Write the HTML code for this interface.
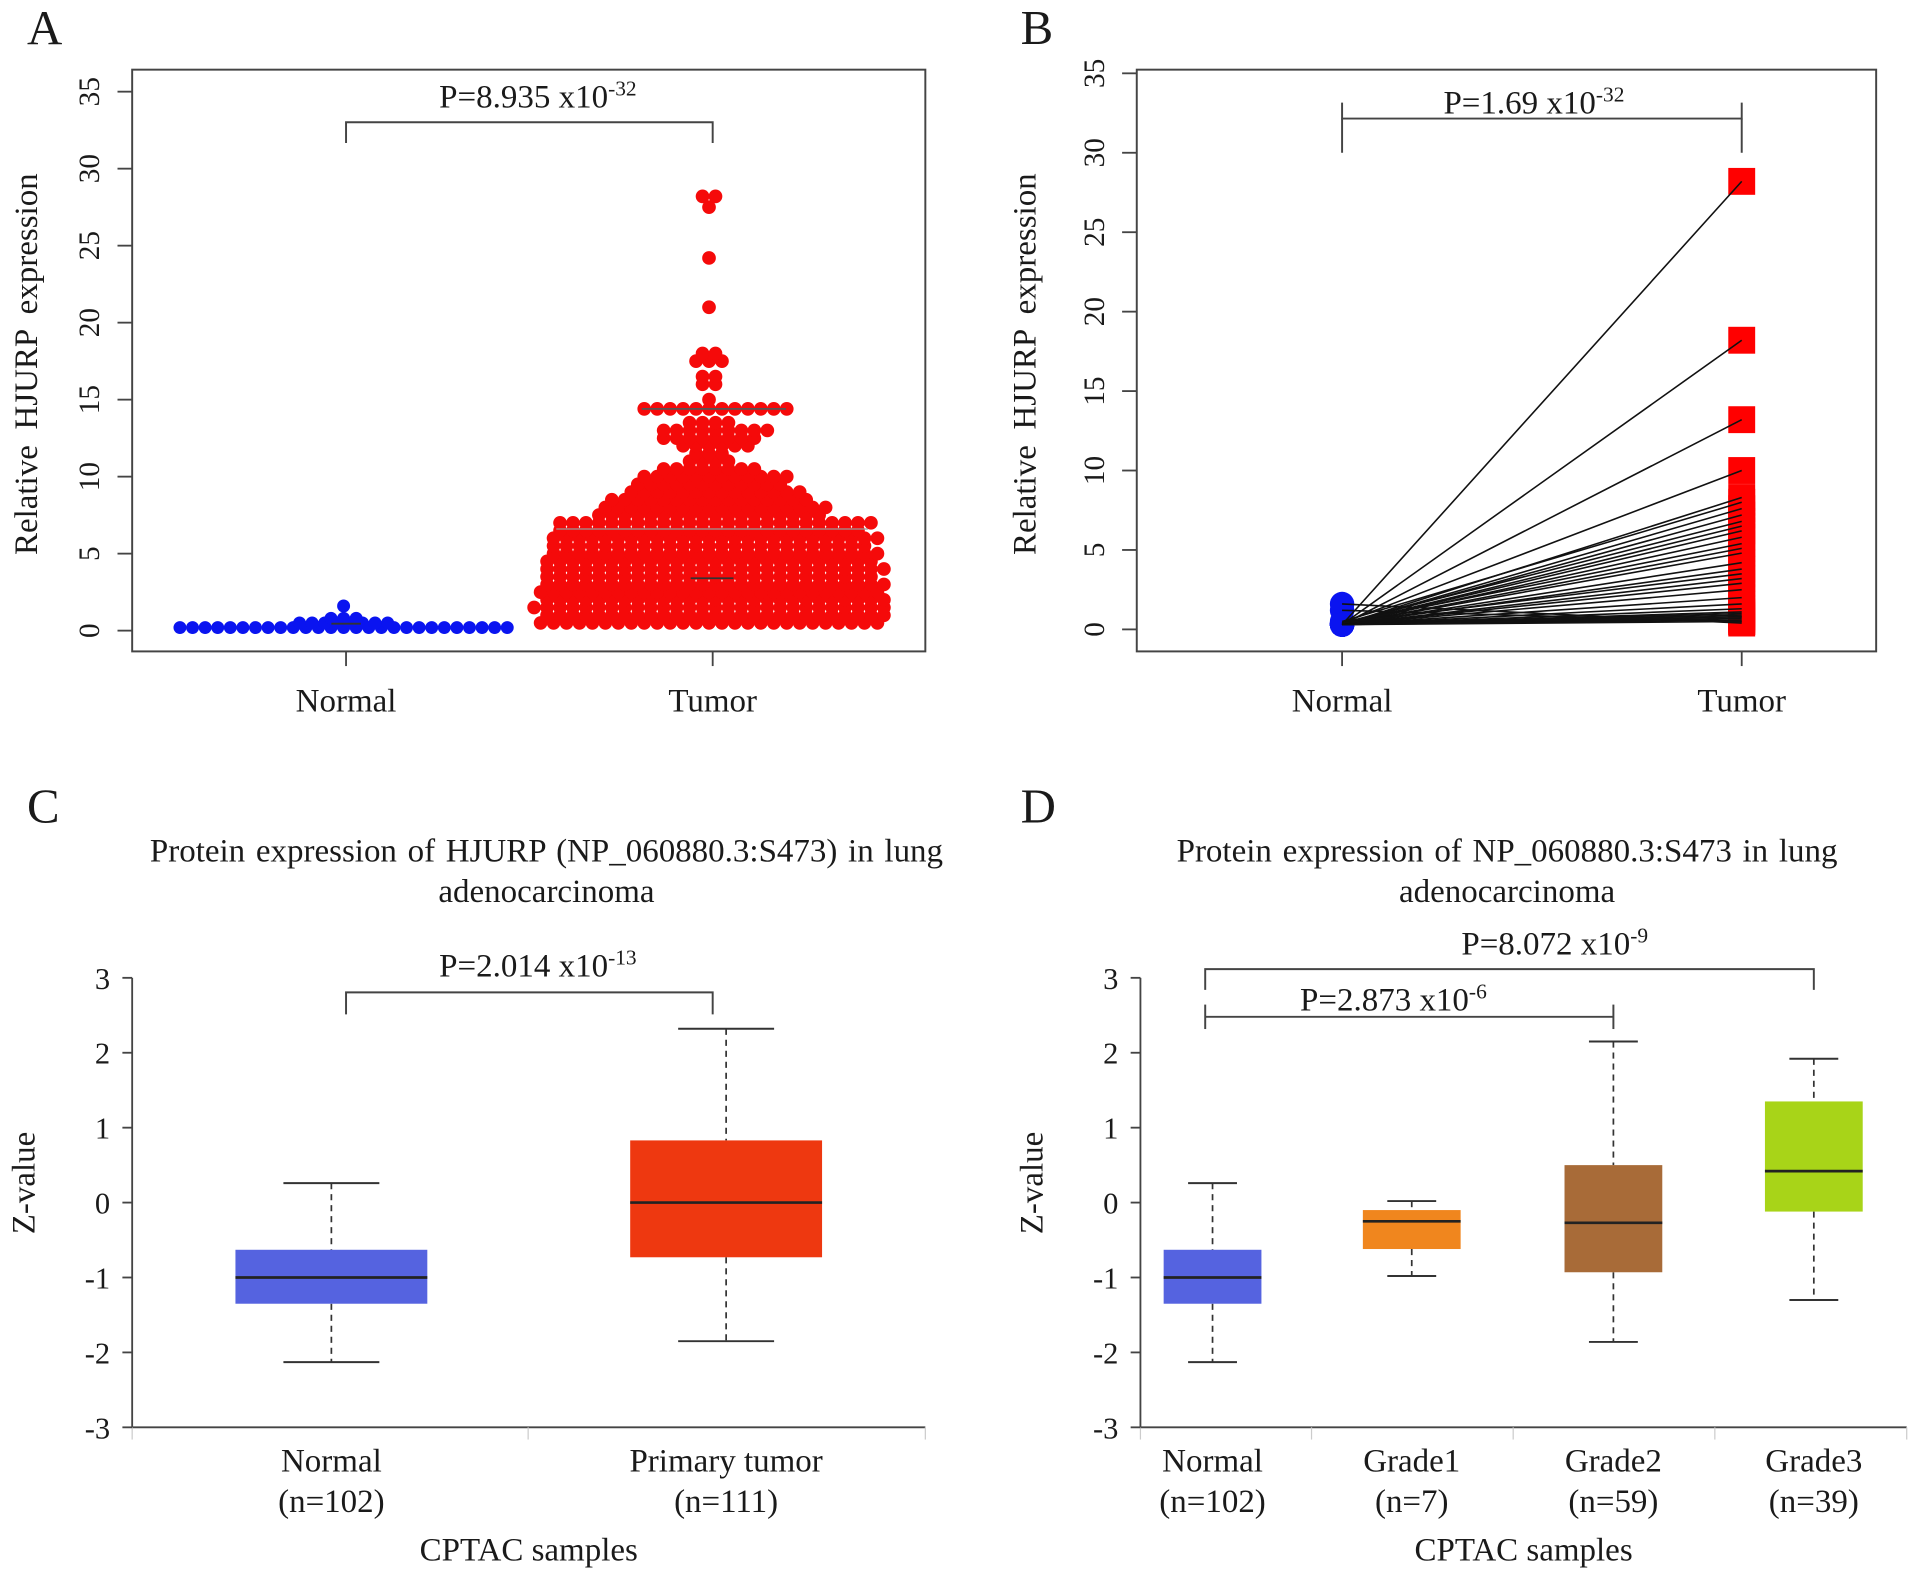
<!DOCTYPE html>
<html><head><meta charset="utf-8"><style>
html,body{margin:0;padding:0;background:#fff;}
svg{display:block;font-family:"Liberation Serif",serif;}
text{fill:#1a1a1a;}
</style></head><body>
<svg id="fig" width="1913" height="1579" viewBox="0 0 1565 1292" xmlns="http://www.w3.org/2000/svg"></svg>
<script>
// ---------- Data ----------
// Panel A: beeswarm rows (value level, dot count)
const normalLevelsA = [0.2, 0.5, 0.8, 1.6];
const normalCountsA = [27, 8, 3, 1];
const tumorLevelsA = [0.5,1.0,1.5,2.0,2.5,3.0,3.5,4.0,4.5,5.0,5.5,6.0,6.5,7.0,7.5,8.0,8.5,9.0,9.5,10.0,10.5,11.0,11.5,12.0,12.5,13.0,13.5,14.4,15.0,16.0,16.5,17.5,18.0,21.0,24.2,27.5,28.2];
const tumorCountsA = [27,27,28,27,27,27,26,27,26,26,25,26,24,25,18,18,16,14,12,12,8,4,3,6,8,9,4,12,1,2,2,3,2,1,1,1,2];
const tumorRefLinesA = [14.4, 6.6, 3.4];
const yTicksA = [0,5,10,15,20,25,30,35];

// Panel B: paired values
const normalB = [0.3,0.3,0.3,0.4,0.3,0.5,0.3,0.3,0.4,0.3,0.3,0.3,0.4,0.3,0.3,0.3,0.3,0.4,0.3,0.3,0.3,0.3,0.3,0.3,0.3,0.3,0.3,0.3,0.3,0.3,1.2,1.6,0.3,0.3];
const tumorB  = [28.2,18.2,13.2,10.0,8.3,8.0,7.6,7.2,6.8,6.5,6.2,5.8,5.4,5.1,4.8,4.2,3.8,3.5,3.2,2.9,2.5,2.0,1.6,1.3,1.1,1.0,0.9,0.8,0.7,0.6,0.5,0.4,0.8,0.5];
const yTicksB = [0,5,10,15,20,25,30,35];

// Panel C / D boxplots
const catsC = ["Normal","Primary tumor"];
const nC = ["(n=102)","(n=111)"];
const lowC = [-2.13,-1.85], q1C = [-1.35,-0.73], medC = [-1.0,0.0], q3C = [-0.63,0.83], highC = [0.26,2.32];
const colC = ["#5563e0","#ee3810"];
const catsD = ["Normal","Grade1","Grade2","Grade3"];
const nD = ["(n=102)","(n=7)","(n=59)","(n=39)"];
const lowD = [-2.13,-0.98,-1.86,-1.3], q1D = [-1.35,-0.62,-0.93,-0.12], medD = [-1.0,-0.25,-0.27,0.42], q3D = [-0.63,-0.1,0.5,1.35], highD = [0.26,0.02,2.15,1.92];
const colD = ["#5563e0","#f0861e","#a86b38","#a8d418"];
const zTicks = [3,2,1,0,-1,-2,-3];

// ---------- Helpers ----------
const NS = "http://www.w3.org/2000/svg";
const svg = document.getElementById("fig");
const FS = 27, TFS = 24;
function el(tag, attrs, parent, txt){
  const e = document.createElementNS(NS, tag);
  for (const k in attrs) e.setAttribute(k, attrs[k]);
  if (txt !== undefined) e.textContent = txt;
  (parent || svg).appendChild(e);
  return e;
}
function group(name){
  const g = el("g", {});
  
  
  return g;
}
function ptext(g, x, y, base, exp, size){
  const t = el("text", {x:x, y:y, "text-anchor":"middle", "font-size":size}, g);
  
  
  el("tspan", {}, t, base);
  el("tspan", {dy:-10, "font-size":size*0.65}, t, exp);
  return t;
}
function bracket(g, x1, x2, y, d1, d2){
  el("path", {d:`M${x1} ${y+d1} V${y} H${x2} V${y+d2}`, fill:"none", stroke:"#444", "stroke-width":1.6}, g);
}

// ---------- Panel A ----------
(function(){
  const g = group("panel-a");
  const L = 108, R = 757, T = 57, B = 533;
  const y = v => 516 - v * 12.6;
  const xN = 283, xT = 583;
  el("text", {x:22, y:36, "font-size":40}, g, "A");
  el("rect", {x:L, y:T, width:R-L, height:B-T, fill:"none", stroke:"#444", "stroke-width":1.6}, g);
  yTicksA.forEach(v => {
    el("line", {x1:96, x2:L, y1:y(v), y2:y(v), stroke:"#444", "stroke-width":1.5}, g);
    const t = el("text", {x:0, y:0, "font-size":TFS, "text-anchor":"middle", transform:`translate(81 ${y(v)}) rotate(-90)`}, g, String(v));
    
  });
  [[xN,"Normal"],[xT,"Tumor"]].forEach(([x,l]) => {
    el("line", {x1:x, x2:x, y1:B, y2:B+12, stroke:"#444", "stroke-width":1.5}, g);
    const t = el("text", {x:x, y:582, "font-size":FS, "text-anchor":"middle"}, g, l);
    
  });
  const yt = el("text", {x:0, y:0, "font-size":FS, "text-anchor":"middle", transform:"translate(30 298) rotate(-90)", "word-spacing":"6"}, g, "Relative HJURP expression");
  
  function swarm(levels, counts, cx, sp, col, r, stagger){
    levels.forEach((v, i) => {
      const n = counts[i];
      const off = (stagger && n > 5 && i % 2) ? sp/2 : 0;
      for (let k = 0; k < n; k++){
        const x = cx + (k - (n-1)/2) * sp + off;
        const c = el("circle", {cx:x, cy:y(v), r:r, fill:col}, g);
        
        
      }
    });
  }
  swarm(normalLevelsA, normalCountsA, xN - 2, 10.3, "#0a14f0", 5.3, false);
  swarm(tumorLevelsA, tumorCountsA, xT - 3, 10.6, "#f50a0a", 5.6, true);
  el("line", {x1:xN-12, x2:xN+12, y1:y(0.45), y2:y(0.45), stroke:"#333", "stroke-width":1.5}, g);
  el("line", {x1:525, x2:643, y1:y(tumorRefLinesA[0]), y2:y(tumorRefLinesA[0]), stroke:"#555", "stroke-width":1.5}, g);
  el("line", {x1:455, x2:710, y1:y(tumorRefLinesA[1]), y2:y(tumorRefLinesA[1]), stroke:"#999", "stroke-width":1}, g);
  el("line", {x1:565, x2:600, y1:y(tumorRefLinesA[2]), y2:y(tumorRefLinesA[2]), stroke:"#333", "stroke-width":1.5}, g);
  bracket(g, xN, xT, 100, 17, 17);
  ptext(g, 440, 88, "P=8.935 x10", "-32", FS);
})();

// ---------- Panel B ----------
(function(){
  const g = group("panel-b");
  const L = 930, R = 1535, T = 57, B = 533;
  const y = v => 515 - v * 13;
  const xN = 1098, xT = 1425;
  el("text", {x:835, y:36, "font-size":40}, g, "B");
  el("rect", {x:L, y:T, width:R-L, height:B-T, fill:"none", stroke:"#444", "stroke-width":1.6}, g);
  yTicksB.forEach(v => {
    el("line", {x1:918, x2:L, y1:y(v), y2:y(v), stroke:"#444", "stroke-width":1.5}, g);
    const t = el("text", {x:0, y:0, "font-size":TFS, "text-anchor":"middle", transform:`translate(903 ${y(v)}) rotate(-90)`}, g, String(v));
    
  });
  [[xN,"Normal"],[xT,"Tumor"]].forEach(([x,l]) => {
    el("line", {x1:x, x2:x, y1:B, y2:B+12, stroke:"#444", "stroke-width":1.5}, g);
    const t = el("text", {x:x, y:582, "font-size":FS, "text-anchor":"middle"}, g, l);
    
  });
  const yt = el("text", {x:0, y:0, "font-size":FS, "text-anchor":"middle", transform:"translate(847 298) rotate(-90)", "word-spacing":"6"}, g, "Relative HJURP expression");
  
  tumorB.forEach(v => {
    const s = el("rect", {x:xT-11, y:y(v)-11, width:22, height:22, fill:"#f00"}, g);
    
    
  });
  normalB.forEach(v => {
    const c = el("circle", {cx:xN, cy:y(v), r:10, fill:"#0a14f0"}, g);
    
    
  });
  tumorB.forEach((v, i) => {
    const l = el("line", {x1:xN, y1:y(normalB[i]), x2:xT, y2:y(v), stroke:"#111", "stroke-width":1.3}, g);
    
    
  });
  bracket(g, xN, xT, 97, -13, -13);
  el("line", {x1:xN, x2:xN, y1:97, y2:125, stroke:"#444", "stroke-width":1.6}, g);
  el("line", {x1:xT, x2:xT, y1:97, y2:125, stroke:"#444", "stroke-width":1.6}, g);
  ptext(g, 1255, 93, "P=1.69 x10", "-32", FS);
})();

// ---------- Box panels ----------
function boxPanel(name, letter, lx, axisX, right, centers, bw, cats, ns, low, q1, med, q3, high, cols, title1, title2, titleX, seps){
  const g = group(name);
  const y = v => 984 - v * 61.3;
  el("text", {x:lx, y:673, "font-size":40}, g, letter);
  el("text", {x:titleX, y:705, "font-size":FS, "text-anchor":"middle", "word-spacing":"2"}, g, title1);
  el("text", {x:titleX, y:738, "font-size":FS, "text-anchor":"middle"}, g, title2);
  el("line", {x1:axisX, x2:axisX, y1:y(3), y2:y(-3), stroke:"#444", "stroke-width":1.5}, g);
  el("line", {x1:axisX, x2:right, y1:y(-3), y2:y(-3), stroke:"#444", "stroke-width":1.5}, g);
  seps.forEach(x => el("line", {x1:x, x2:x, y1:y(-3), y2:y(-3)+10, stroke:"#ccc", "stroke-width":1}, g));
  zTicks.forEach(v => {
    el("line", {x1:axisX-8, x2:axisX, y1:y(v), y2:y(v), stroke:"#444", "stroke-width":1.5}, g);
    const t = el("text", {x:axisX-18, y:y(v)+9, "font-size":25, "text-anchor":"end"}, g, String(v));
    
  });
  const yt = el("text", {x:0, y:0, "font-size":FS, "text-anchor":"middle", transform:`translate(${axisX-80} 968) rotate(-90)`}, g, "Z-value");
  
  centers.forEach((cx, i) => {
    const bg = el("g", {}, g);
    
    
    el("line", {x1:cx, x2:cx, y1:y(high[i]), y2:y(q3[i]), stroke:"#333", "stroke-width":1.4, "stroke-dasharray":"5 4"}, bg);
    el("line", {x1:cx, x2:cx, y1:y(q1[i]), y2:y(low[i]), stroke:"#333", "stroke-width":1.4, "stroke-dasharray":"5 4"}, bg);
    el("line", {x1:cx-bw/4, x2:cx+bw/4, y1:y(high[i]), y2:y(high[i]), stroke:"#333", "stroke-width":1.6}, bg);
    el("line", {x1:cx-bw/4, x2:cx+bw/4, y1:y(low[i]), y2:y(low[i]), stroke:"#333", "stroke-width":1.6}, bg);
    el("rect", {x:cx-bw/2, y:y(q3[i]), width:bw, height:y(q1[i])-y(q3[i]), fill:cols[i]}, bg);
    el("line", {x1:cx-bw/2, x2:cx+bw/2, y1:y(med[i]), y2:y(med[i]), stroke:"#222", "stroke-width":2.2}, bg);
    const t = el("text", {x:cx, y:1204, "font-size":FS, "text-anchor":"middle"}, g, cats[i]);
    
    el("text", {x:cx, y:1237, "font-size":FS, "text-anchor":"middle"}, g, ns[i]);
  });
  const xt = el("text", {x:(axisX+right)/2, y:1277, "font-size":FS, "text-anchor":"middle"}, g, "CPTAC samples");
  
  return {g, y};
}
(function(){
  const p = boxPanel("panel-c", "C", 22, 108, 757, [271, 594], 157, catsC, nC, lowC, q1C, medC, q3C, highC, colC,
    "Protein expression of HJURP (NP_060880.3:S473) in lung", "adenocarcinoma", 447, [108, 432, 757]);
  bracket(p.g, 283, 583, 812, 18, 18);
  ptext(p.g, 440, 799, "P=2.014 x10", "-13", FS);
})();
(function(){
  const p = boxPanel("panel-d", "D", 835, 933, 1560, [992, 1155, 1320, 1484], 80, catsD, nD, lowD, q1D, medD, q3D, highD, colD,
    "Protein expression of  NP_060880.3:S473 in lung", "adenocarcinoma", 1233, [933, 1073, 1238, 1403, 1560]);
  bracket(p.g, 986, 1484, 793, 17, 17);
  ptext(p.g, 1272, 781, "P=8.072 x10", "-9", FS);
  el("line", {x1:986, x2:1320, y1:832, y2:832, stroke:"#444", "stroke-width":1.6}, p.g);
  el("line", {x1:986, x2:986, y1:822, y2:842, stroke:"#444", "stroke-width":1.6}, p.g);
  el("line", {x1:1320, x2:1320, y1:822, y2:842, stroke:"#444", "stroke-width":1.6}, p.g);
  ptext(p.g, 1140, 827, "P=2.873 x10", "-6", FS);
})();
</script>
</body></html>
